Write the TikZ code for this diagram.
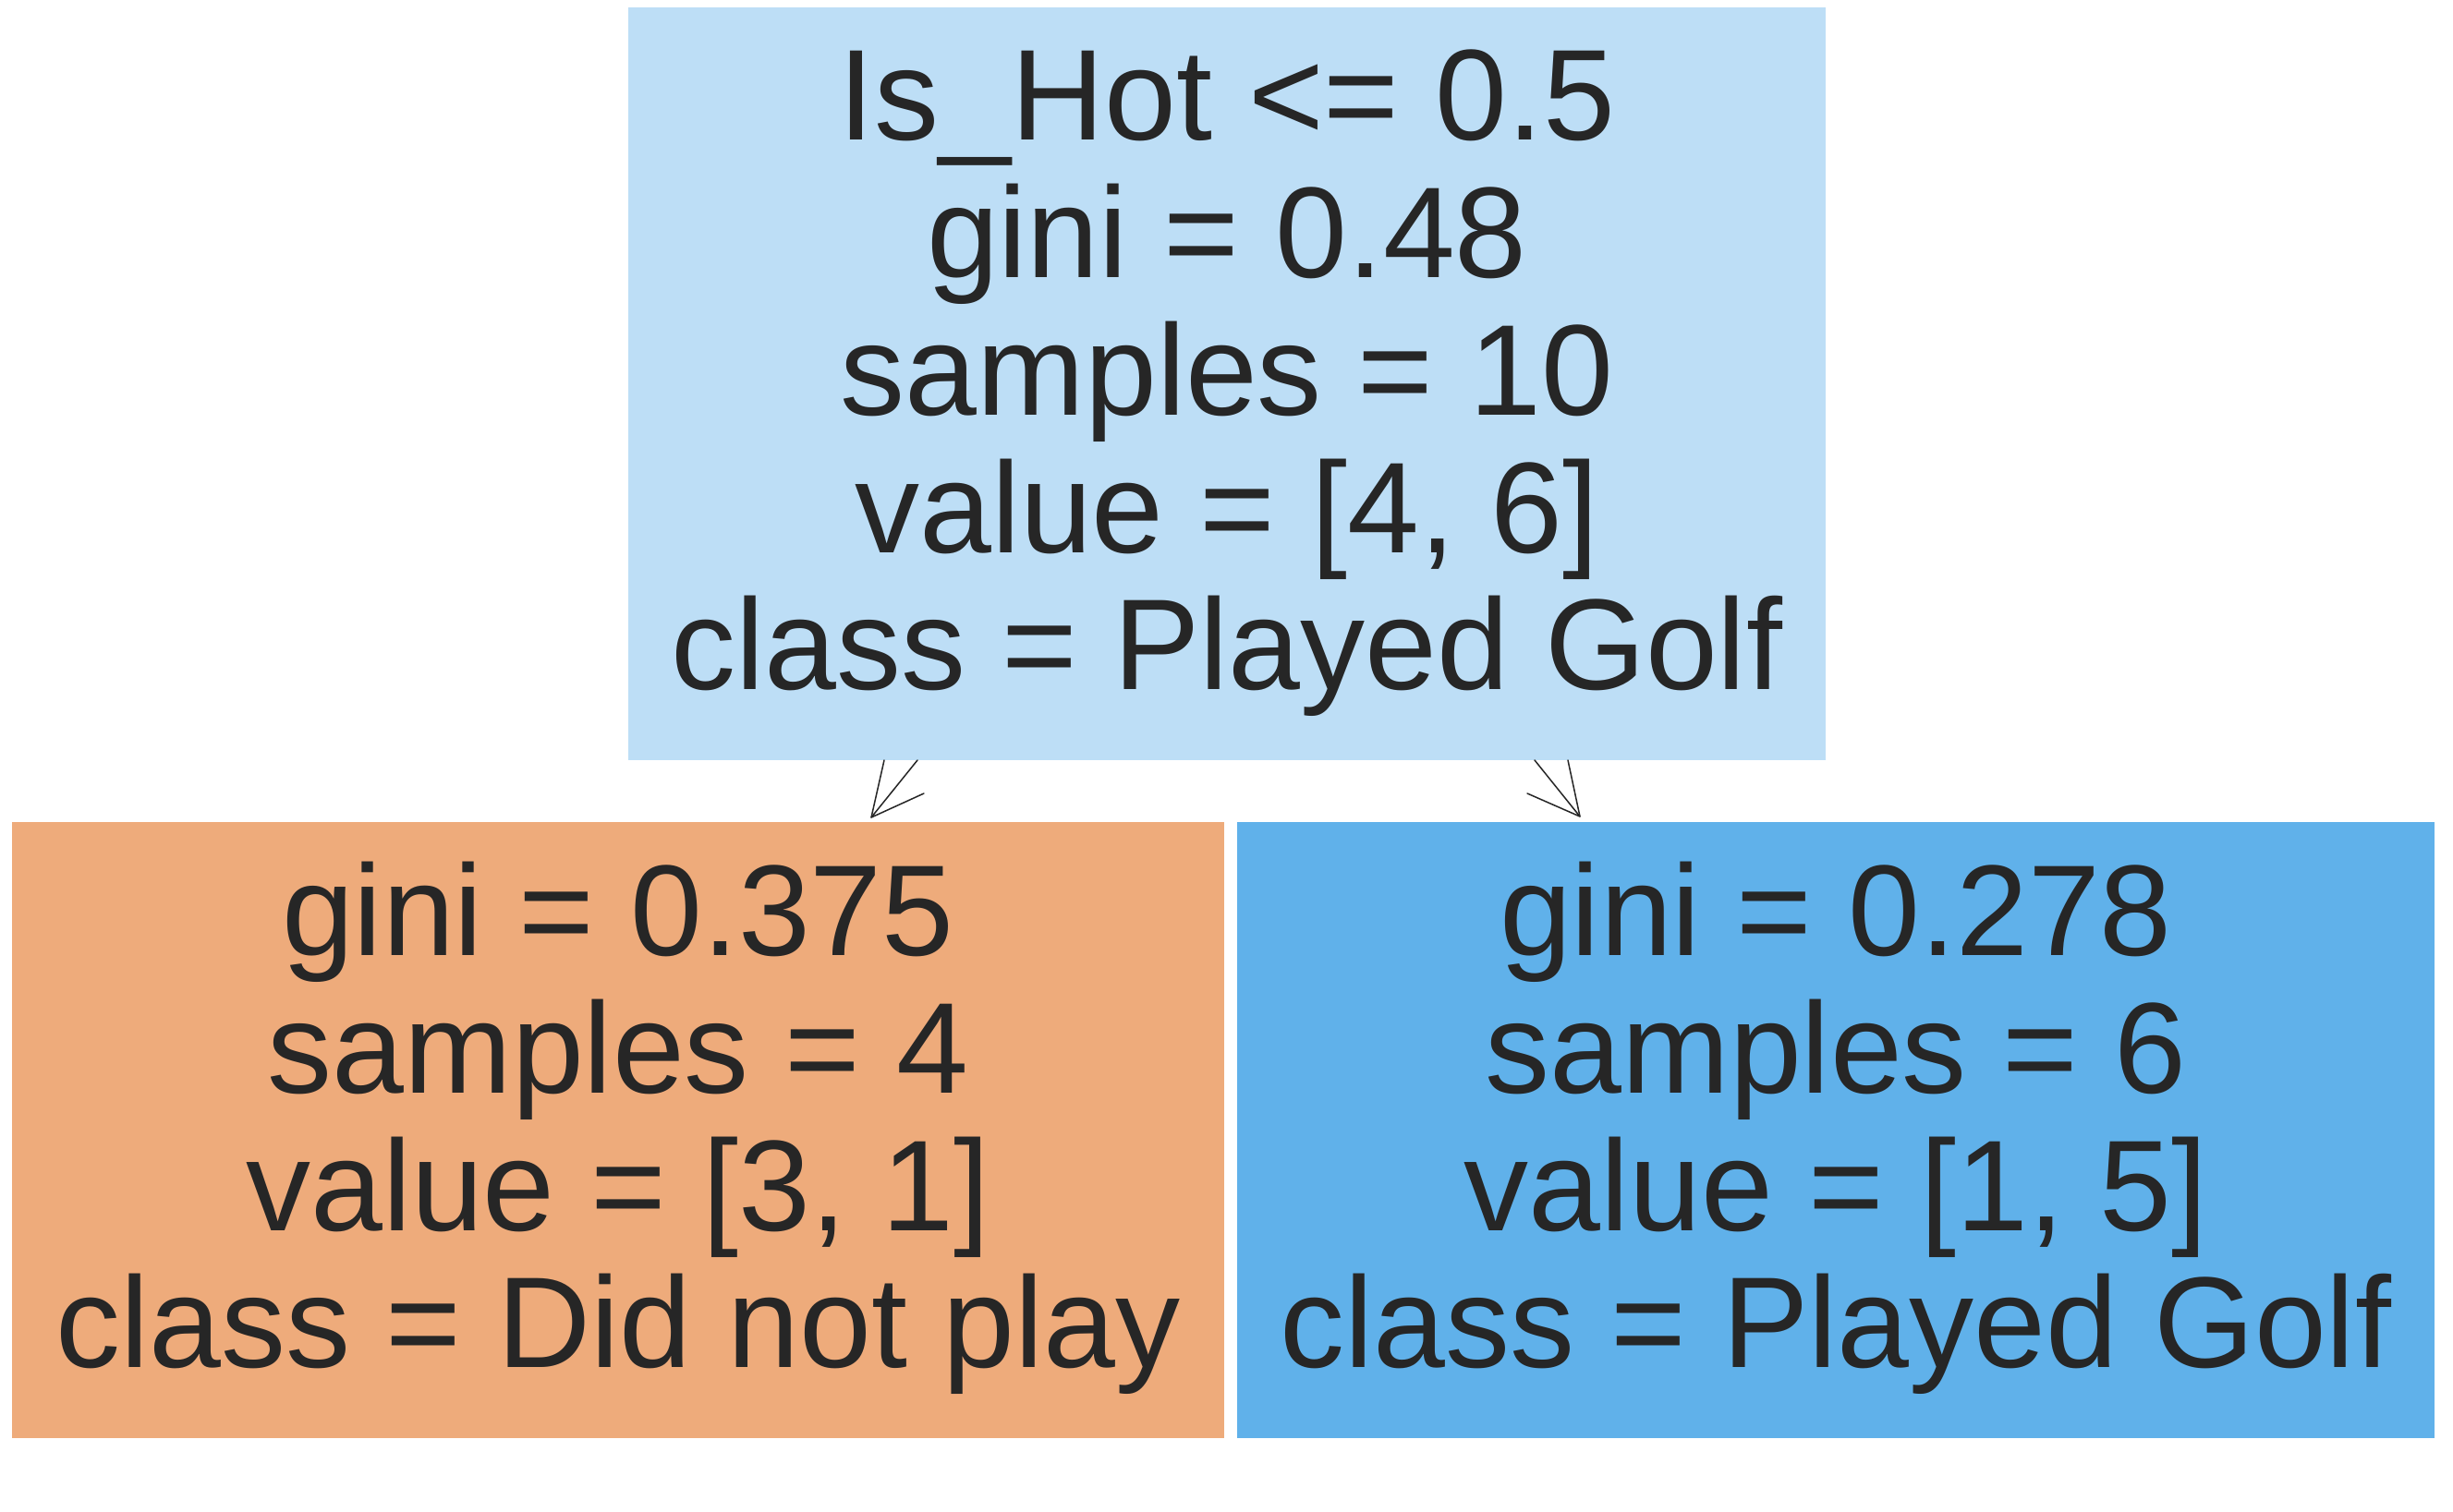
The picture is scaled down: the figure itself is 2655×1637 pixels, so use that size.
\documentclass[tikz,border=0pt]{standalone}
\usepackage{fontspec}
\setmainfont{Liberation Sans}
\definecolor{rootfill}{RGB}{189,222,246}
\definecolor{leftfill}{RGB}{238,171,123}
\definecolor{rightfill}{RGB}{96,177,234}
\definecolor{txt}{RGB}{38,38,38}
\definecolor{edgecol}{RGB}{38,38,38}
\newcommand\treelines[1]{\vbox{\baselineskip=148.7pt\lineskiplimit=-100pt\halign{\hfil##\hfil\cr#1\crcr}}}
\begin{document}
\begin{tikzpicture}[x=1pt,y=-1pt,
  treebox/.style={anchor=base,inner sep=0pt,outer sep=0pt,text=txt,
    font=\fontsize{140pt}{148.7pt}\selectfont,text depth=76.3pt},
  edgeline/.style={draw=edgecol,line width=1.5pt,line cap=round,line join=round}]
\useasboundingbox (0,0) rectangle (2655,1637);
% arrow end points
\coordinate (tipL) at (943,885);
\coordinate (headL1) at (993,823);
\coordinate (headL2) at (1000,859);
\coordinate (tipR) at (1710,884);
\coordinate (headR1) at (1661,823);
\coordinate (headR2) at (1653,859);
% boxes
\node[treebox,fill=rootfill,minimum width=1296pt,text height=738.7pt] (root) at (1328,746.7)
  {\treelines{Is\_Hot <= 0.5\cr gini = 0.48\cr samples = 10\cr value = [4, 6]\cr class = Played Golf}};
\node[treebox,fill=leftfill,minimum width=1312pt,text height=591.2pt] (left) at (669,1480.7)
  {\treelines{gini = 0.375\cr samples = 4\cr value = [3, 1]\cr class = Did not play}};
\node[treebox,fill=rightfill,minimum width=1296pt,text height=591.2pt] (right) at (1987,1480.7)
  {\treelines{gini = 0.278\cr samples = 6\cr value = [1, 5]\cr class = Played Golf}};
% connectors
\draw[edgeline] ([xshift=-371pt]root.south) -- (tipL);
\draw[edgeline] (headL1) -- (tipL) -- (headL2);
\draw[edgeline] ([xshift=369pt]root.south) -- (tipR);
\draw[edgeline] (headR1) -- (tipR) -- (headR2);
\end{tikzpicture}
\end{document}
